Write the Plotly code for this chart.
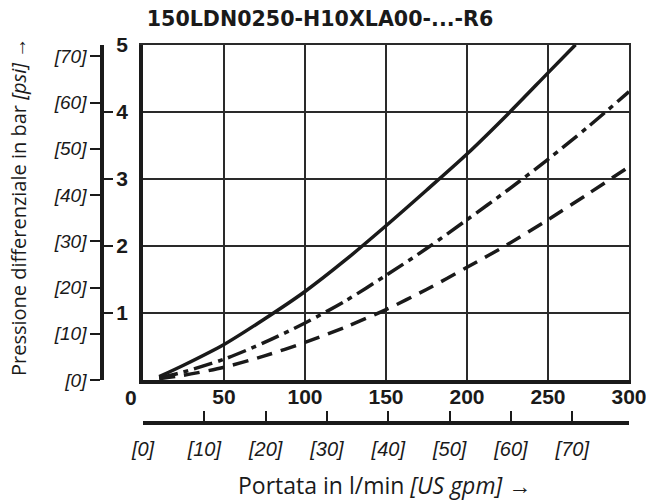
import plotly.graph_objects as go

# ---------------- data ----------------
flow_solid = [10, 25, 50, 75, 100, 125, 150, 175, 200, 225, 250, 267]
dp_solid = [0.05, 0.22, 0.53, 0.91, 1.32, 1.79, 2.30, 2.83, 3.37, 3.96, 4.58, 5.0]

flow_dashdot = [10, 25, 50, 75, 100, 125, 150, 175, 200, 225, 250, 275, 300]
dp_dashdot = [0.03, 0.12, 0.31, 0.56, 0.85, 1.18, 1.56, 1.96, 2.39, 2.83, 3.29, 3.78, 4.30]

flow_dashed = [10, 25, 50, 75, 100, 125, 150, 175, 200, 225, 250, 275, 300]
dp_dashed = [0.02, 0.07, 0.19, 0.36, 0.56, 0.79, 1.05, 1.35, 1.68, 2.02, 2.39, 2.78, 3.18]

x_ticks_lpm = [50, 100, 150, 200, 250, 300]
y_ticks_bar = [1, 2, 3, 4, 5]
psi_ticks = [0, 10, 20, 30, 40, 50, 60, 70]
gpm_ticks = [0, 10, 20, 30, 40, 50, 60, 70]

title_text = "150LDN0250-H10XLA00-...-R6"
x_title = "Portata in l/min <i>[US gpm]</i> →"
y_title = "Pressione differenziale in bar <i>[psi]</i> →"

BAR_TO_PSI = 14.5038
LPM_PER_GPM = 3.785411784

# ---------------- styling ----------------
W, H = 646, 502
INK = "#1a1a1a"
GRID = "#2a2a2a"
NARROW = "Liberation Sans Narrow, Arial Narrow, Liberation Sans, sans-serif"
SANS = "Open Sans, Noto Sans, sans-serif"

px_left, px_right = 143, 629
px_top, px_bottom = 44.7, 380
x_dom = [px_left / W, px_right / W]
y_dom = [1 - px_bottom / H, 1 - px_top / H]

fig = go.Figure()
line_common = dict(color=INK, width=3.5, shape="spline", smoothing=0.8)
fig.add_trace(go.Scatter(x=flow_solid, y=dp_solid, mode="lines",
                         line=dict(**line_common, dash="solid"), showlegend=False))
fig.add_trace(go.Scatter(x=flow_dashdot, y=dp_dashdot, mode="lines",
                         line=dict(**line_common, dash="19px,6px,5px,6px"), showlegend=False))
fig.add_trace(go.Scatter(x=flow_dashed, y=dp_dashed, mode="lines",
                         line=dict(**line_common, dash="16px,9px"), showlegend=False))

fig.update_layout(
    width=W, height=H,
    margin=dict(l=0, r=0, t=0, b=0),
    paper_bgcolor="white", plot_bgcolor="white",
    showlegend=False,
    title=dict(text="<b>" + title_text + "</b>", x=320 / W, xanchor="center",
               y=1 - 19 / H, yanchor="middle", yref="container",
               font=dict(family="DejaVu Sans", size=20.6, color=INK)),
    xaxis=dict(domain=x_dom, range=[0, 300], anchor="y",
               tickvals=x_ticks_lpm, ticktext=[str(v) for v in x_ticks_lpm],
               showgrid=True, gridcolor=GRID, gridwidth=1.5,
               showline=True, linecolor=INK, linewidth=3.5,
               ticks="", zeroline=False, automargin=False,
               ticklabelstandoff=-5, ticklabeloverflow="allow",
               tickfont=dict(family=NARROW, size=21, color=INK, weight="bold")),
    yaxis=dict(domain=y_dom, range=[0, 5], anchor="x",
               tickvals=y_ticks_bar, ticktext=[str(v) for v in y_ticks_bar],
               showgrid=True, gridcolor=GRID, gridwidth=1.5,
               showline=True, linecolor=INK, linewidth=3.5,
               ticks="", zeroline=False, automargin=False,
               ticklabelstandoff=7, ticklabeloverflow="allow",
               tickfont=dict(family=NARROW, size=21, color=INK, weight="bold")),
    # thin frame on top / right
    xaxis3=dict(overlaying="x", anchor="y", side="top", range=[0, 300],
                showline=True, linecolor=GRID, linewidth=1.5,
                showticklabels=False, ticks="", showgrid=False, zeroline=False),
    yaxis4=dict(overlaying="y", anchor="x", side="right", range=[0, 5],
                showline=True, linecolor=GRID, linewidth=1.5,
                showticklabels=False, ticks="", showgrid=False, zeroline=False),
    # psi axis
    yaxis2=dict(overlaying="y", anchor="free", position=102 / W, side="left",
                range=[0, 5 * BAR_TO_PSI], tickvals=psi_ticks,
                ticktext=["[%d]" % v for v in psi_ticks],
                ticks="outside", ticklen=10, tickwidth=2, tickcolor=INK,
                showline=True, linecolor=INK, linewidth=3.5,
                showgrid=False, zeroline=False, automargin=False,
                ticklabeloverflow="allow",
                tickfont=dict(family=NARROW, size=19, color=INK, style="italic")),
    # bar ticks on the psi axis line
    yaxis3=dict(overlaying="y", anchor="free", position=102 / W, side="left",
                range=[0, 5], tickvals=y_ticks_bar,
                ticks="inside", ticklen=10, tickwidth=2, tickcolor=INK,
                showticklabels=False, showline=False, showgrid=False, zeroline=False),
    # gpm axis
    xaxis2=dict(overlaying="x", anchor="free", position=1 - 423 / H, side="bottom",
                range=[0, 300 / LPM_PER_GPM], tickvals=gpm_ticks,
                ticktext=["[%d]" % v for v in gpm_ticks],
                ticks="inside", ticklen=10, tickwidth=2, tickcolor=INK,
                showline=True, linecolor=INK, linewidth=3.5,
                showgrid=False, zeroline=False, automargin=False,
                ticklabelstandoff=7, ticklabeloverflow="allow",
                tickfont=dict(family=NARROW, size=20, color=INK, style="italic")),
)

# dummy traces so the extra axes are rendered
fig.add_trace(go.Scatter(x=[None], y=[None], xaxis="x2", yaxis="y2", showlegend=False))
fig.add_trace(go.Scatter(x=[None], y=[None], xaxis="x3", yaxis="y3", showlegend=False))
fig.add_trace(go.Scatter(x=[None], y=[None], xaxis="x", yaxis="y4", showlegend=False))

# shared origin label "0"
fig.add_annotation(x=0, y=0, xref="x", yref="y", text="<b>0</b>", showarrow=False,
                   xshift=-12.5, yshift=-17.5,
                   font=dict(family=NARROW, size=21, color=INK))
# axis titles
fig.add_annotation(x=384 / W, y=1 - 485 / H, xref="paper", yref="paper",
                   text=x_title, showarrow=False, xanchor="center", yanchor="middle",
                   font=dict(family=SANS, size=23, color=INK))
fig.add_annotation(x=18 / W, y=1 - 207 / H, xref="paper", yref="paper",
                   text=y_title, showarrow=False, textangle=-90,
                   xanchor="center", yanchor="middle",
                   font=dict(family=SANS, size=20, color=INK))

fig.write_html("out.html")
